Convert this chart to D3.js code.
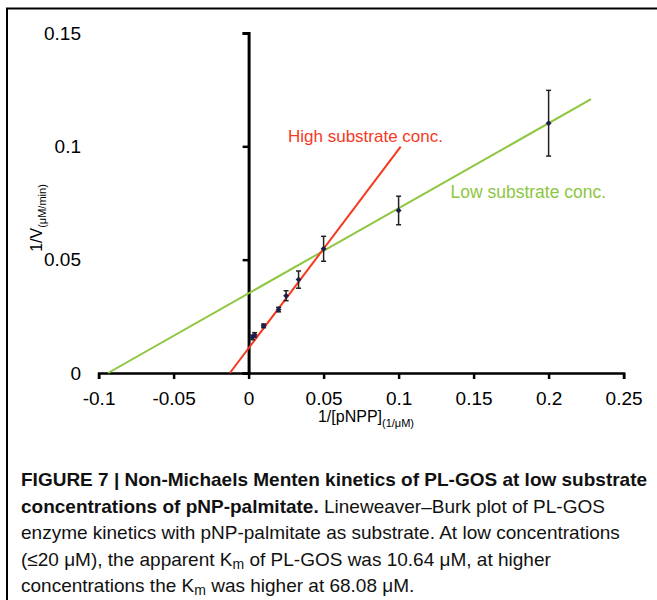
<!DOCTYPE html>
<html>
<head>
<meta charset="utf-8">
<script src="https://cdn.jsdelivr.net/npm/d3@7"></script>
<style>
	body { margin: 0; background: #fff; }
	svg { display: block; font-family: "Liberation Sans", Arial, sans-serif; }
</style>
</head>
<body>
<div id="chart"></div>
<script>
// 1/[S] values (1/uM), mean 1/V and error
const invS = [0.0025, 0.004, 0.01, 0.02, 0.025, 0.0333, 0.05, 0.1, 0.2];
const invV = [0.0157, 0.0168, 0.0208, 0.028, 0.0341, 0.0412, 0.0548, 0.0717, 0.1102];
const invVErr = [0.001, 0.001, 0.0008, 0.001, 0.0022, 0.0038, 0.0055, 0.0063, 0.0145];

// trend lines, as drawn: [x, y] end points
const highLine = [[-0.0125, 0], [0.1014, 0.0999]];
const lowLine = [[-0.0937, 0], [0.2283, 0.1208]];

const xTicks = [-0.1, -0.05, 0, 0.05, 0.1, 0.15, 0.2, 0.25];
const yTicks = [0, 0.05, 0.1, 0.15];

const width = 657;
const height = 600;

const red = "#f5391f";
const green = "#8dc63f";

// plain hyphen for negatives, like the original
const fmt = (d) => String(+d.toFixed(2));

const svg = d3
	.select("#chart")
	.append("svg")
	.attr("width", width)
	.attr("height", height);

// figure frame (right and bottom edges fall outside the picture)
svg.append("rect")
	.attr("x", 7)
	.attr("y", 8.5)
	.attr("width", 700)
	.attr("height", 700)
	.attr("fill", "none")
	.attr("stroke", "#000")
	.attr("stroke-width", 2);

const x = d3.scaleLinear().domain([-0.1, 0.25]).range([98.6, 623.6]);
const y = d3.scaleLinear().domain([0, 0.15]).range([373, 33]);

// x axis with ticks pointing down
const xAxis = svg
	.append("g")
	.attr("transform", `translate(0, ${y(0)})`)
	.call(
		d3.axisBottom(x)
			.tickValues(xTicks)
			.tickSize(6)
			.tickPadding(13)
			.tickFormat(fmt)
	);
xAxis.select(".domain").attr("stroke-width", 2.5);
xAxis.selectAll(".tick line").attr("stroke-width", 2.5);
xAxis.selectAll("text")
	.attr("fill", "#000")
	.style("font-size", "19px")
	.style("font-family", "Liberation Sans, Arial, sans-serif");

// y axis line sits at x = 0
const yAxis = svg
	.append("g")
	.attr("transform", `translate(${x(0)}, 0)`)
	.call(d3.axisLeft(y).tickValues(yTicks).tickSize(6).tickFormat(""));
yAxis.select(".domain").attr("stroke-width", 3);
yAxis.selectAll(".tick line").attr("stroke-width", 2.5);

// y tick labels stand at the left edge of the plot
const yLabels = svg
	.append("g")
	.attr("transform", "translate(88, 0)")
	.call(
		d3.axisLeft(y)
			.tickValues(yTicks)
			.tickSize(0)
			.tickPadding(7)
			.tickFormat(fmt)
	);
yLabels.select(".domain").remove();
yLabels.selectAll("text")
	.attr("fill", "#000")
	.style("font-size", "19px")
	.style("font-family", "Liberation Sans, Arial, sans-serif");

// axis titles
const xTitle = svg
	.append("text")
	.attr("x", 366)
	.attr("y", 421.5)
	.attr("text-anchor", "middle")
	.style("font-size", "16px");
xTitle.append("tspan").text("1/[pNPP]");
xTitle.append("tspan").attr("dy", 5).style("font-size", "11px").text("(1/μM)");

const yTitle = svg
	.append("text")
	.attr("transform", "translate(42, 218) rotate(-90)")
	.attr("text-anchor", "middle")
	.style("font-size", "16px");
yTitle.append("tspan").text("1/V");
yTitle.append("tspan").attr("dy", 4).style("font-size", "11px").text("(μM/min)");

// trend lines
const line = d3
	.line()
	.x((d) => x(d[0]))
	.y((d) => y(d[1]));

svg.append("path")
	.datum(lowLine)
	.attr("d", line)
	.attr("fill", "none")
	.attr("stroke", green)
	.attr("stroke-width", 2);

svg.append("path")
	.datum(highLine)
	.attr("d", line)
	.attr("fill", "none")
	.attr("stroke", red)
	.attr("stroke-width", 2);

// error bars
const points = invS.map((s, i) => ({ s: s, v: invV[i], e: invVErr[i] }));

const bars = svg.append("g").attr("stroke", "#222").attr("stroke-width", 1.5);
bars.selectAll(".bar")
	.data(points)
	.enter()
	.append("line")
	.attr("x1", (d) => x(d.s))
	.attr("x2", (d) => x(d.s))
	.attr("y1", (d) => y(d.v - d.e))
	.attr("y2", (d) => y(d.v + d.e));
bars.selectAll(".capTop")
	.data(points)
	.enter()
	.append("line")
	.attr("x1", (d) => x(d.s) - 2.5)
	.attr("x2", (d) => x(d.s) + 2.5)
	.attr("y1", (d) => y(d.v + d.e))
	.attr("y2", (d) => y(d.v + d.e));
bars.selectAll(".capBottom")
	.data(points)
	.enter()
	.append("line")
	.attr("x1", (d) => x(d.s) - 2.5)
	.attr("x2", (d) => x(d.s) + 2.5)
	.attr("y1", (d) => y(d.v - d.e))
	.attr("y2", (d) => y(d.v - d.e));

// diamond markers
svg.append("g")
	.selectAll("path")
	.data(points)
	.enter()
	.append("path")
	.attr("d", d3.symbol().type(d3.symbolDiamond2).size(22))
	.attr("transform", (d) => `translate(${x(d.s)}, ${y(d.v)})`)
	.attr("fill", "#1c1f4a");

// series labels
svg.append("text")
	.attr("x", 288)
	.attr("y", 141.5)
	.attr("fill", red)
	.style("font-size", "17px")
	.text("High substrate conc.");

svg.append("text")
	.attr("x", 450.5)
	.attr("y", 197.5)
	.attr("fill", green)
	.style("font-size", "17.5px")
	.text("Low substrate conc.");

// caption
const caption = svg.append("g").style("font-size", "19px").attr("fill", "#111");

const c1 = caption.append("text").attr("x", 21).attr("y", 486);
c1.append("tspan")
	.style("font-weight", "bold")
	.text("FIGURE 7 | Non-Michaels Menten kinetics of PL-GOS at low substrate");

const c2 = caption.append("text").attr("x", 21).attr("y", 512.5);
c2.append("tspan")
	.style("font-weight", "bold")
	.text("concentrations of pNP-palmitate.");
c2.append("tspan").text(" Lineweaver–Burk plot of PL-GOS");

caption.append("text")
	.attr("x", 21)
	.attr("y", 539)
	.text("enzyme kinetics with pNP-palmitate as substrate. At low concentrations");

const c4 = caption.append("text").attr("x", 21).attr("y", 565.5);
c4.append("tspan").text("(≤20 μM), the apparent K");
c4.append("tspan").attr("dy", 3).style("font-size", "14px").text("m");
c4.append("tspan").attr("dy", -3).text(" of PL-GOS was 10.64 μM, at higher");

const c5 = caption.append("text").attr("x", 21).attr("y", 592);
c5.append("tspan").text("concentrations the K");
c5.append("tspan").attr("dy", 3).style("font-size", "14px").text("m");
c5.append("tspan").attr("dy", -3).text(" was higher at 68.08 μM.");
</script>
</body>
</html>
